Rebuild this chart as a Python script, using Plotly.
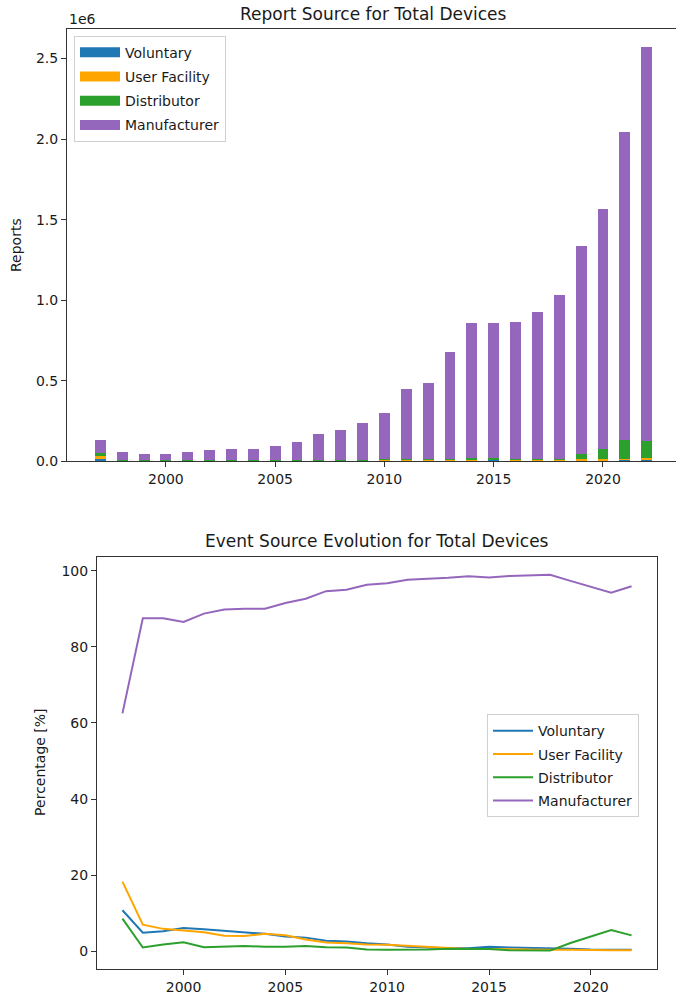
import plotly.graph_objects as go

years = list(range(1997, 2023))

# Total reports per year (stacked bar heights)
totals = [134000, 60000, 47000, 47000, 55000, 68000, 76000, 76000, 97000, 117000,
          166000, 195000, 236000, 297000, 445000, 486000, 673000, 856000, 856000,
          862000, 926000, 1030000, 1330000, 1560000, 2030000, 2550000]

# Percentage share per source
pct_voluntary = [10.8, 4.9, 5.3, 6.1, 5.8, 5.4, 5.0, 4.6, 3.9, 3.6, 2.8, 2.6, 2.1,
                 1.8, 1.2, 1.0, 0.8, 0.8, 1.2, 1.0, 0.9, 0.9, 0.7, 0.5, 0.5, 0.4]
pct_user_facility = [18.3, 7.0, 5.9, 5.5, 5.0, 4.1, 4.0, 4.6, 4.2, 3.1, 2.3, 2.1, 1.8,
                     1.7, 1.4, 1.2, 0.8, 0.6, 0.6, 0.5, 0.5, 0.4, 0.4, 0.3, 0.3, 0.3]
pct_distributor = [8.6, 1.0, 1.8, 2.4, 1.1, 1.2, 1.4, 1.2, 1.2, 1.4, 1.1, 1.0, 0.5,
                   0.4, 0.4, 0.5, 0.7, 0.7, 0.6, 0.3, 0.2, 0.2, 2.2, 3.9, 5.6, 4.2]
pct_manufacturer = [62.5, 87.5, 87.5, 86.5, 88.7, 89.8, 90.0, 90.0, 91.5, 92.6, 94.6,
                    95.0, 96.3, 96.7, 97.6, 97.8, 98.1, 98.5, 98.2, 98.6, 98.7, 98.9,
                    97.3, 95.7, 94.2, 95.9]

sources = ["Voluntary", "User Facility", "Distributor", "Manufacturer"]
colors = ["#1f77b4", "#ffa500", "#2ca02c", "#9467bd"]
pcts = [pct_voluntary, pct_user_facility, pct_distributor, pct_manufacturer]

top_yticks = [0, 0.5e6, 1.0e6, 1.5e6, 2.0e6, 2.5e6]
top_yticktext = ["0.0", "0.5", "1.0", "1.5", "2.0", "2.5"]
xticks = [2000, 2005, 2010, 2015, 2020]
bot_yticks = [0, 20, 40, 60, 80, 100]

W, H = 676, 1005
FONT = "DejaVu Sans"
TXT = "#1a1a1a"


def fx(px):
    return px / W


def fy(py):
    return (H - py) / H


fig = go.Figure()

for name, col, p in zip(sources, colors, pcts):
    counts = [t * v / 100.0 for t, v in zip(totals, p)]
    fig.add_trace(go.Bar(x=years, y=counts, name=name, width=0.5,
                         marker=dict(color=col, line=dict(width=0)),
                         xaxis="x", yaxis="y", showlegend=False))
# legend swatches shaped like matplotlib patches
for name, col in zip(sources, colors):
    fig.add_trace(go.Scatter(x=[None], y=[None], name=name, mode="lines",
                             line=dict(color=col, width=10),
                             xaxis="x", yaxis="y", legend="legend",
                             legendgroup="t" + name))

for name, col, p in zip(sources, colors, pcts):
    fig.add_trace(go.Scatter(x=years, y=p, name=name, mode="lines",
                             line=dict(color=col, width=2),
                             xaxis="x2", yaxis="y2", legend="legend2",
                             legendgroup="b" + name))

# geometry in page pixels
tl, tr_full, tt, tb = 67, 680, 29, 465
bl, br, bt, bb = 97, 657, 561, 977
x0, x1 = 1995.475, 2023.525
pxyr = (tr_full - tl) / (x1 - x0)
x1_vis = x1 - (tr_full - W) / pxyr

axis_common = dict(showline=True, linecolor="#333333", linewidth=1,
                   ticks="outside", ticklen=5, tickcolor="#333333",
                   showgrid=False, zeroline=False,
                   tickfont=dict(family=FONT, size=14, color=TXT))

fig.update_layout(
    width=W, height=H,
    margin=dict(l=0, r=0, t=0, b=0),
    paper_bgcolor="white", plot_bgcolor="white",
    barmode="stack",
    showlegend=True,
    xaxis=dict(domain=[fx(tl), 1.0], range=[x0, x1_vis], tickvals=xticks,
               mirror=True, anchor="y", **axis_common),
    yaxis=dict(domain=[fy(tb), fy(tt)], range=[0, 2.685e6],
               tickvals=top_yticks, ticktext=top_yticktext, anchor="x",
               **axis_common),
    xaxis2=dict(domain=[fx(bl), fx(br)], range=[1995.75, 2023.25], tickvals=xticks,
                mirror=True, anchor="y2", **axis_common),
    yaxis2=dict(domain=[fy(bb), fy(bt)], range=[-4.7, 103.7],
                tickvals=bot_yticks, mirror=True, anchor="x2", **axis_common),
    legend=dict(x=fx(74), y=fy(36), xanchor="left", yanchor="top",
                traceorder="grouped", tracegroupgap=3, itemwidth=40,
                bgcolor="rgba(255,255,255,0.8)",
                bordercolor="#d0d0d0", borderwidth=1,
                font=dict(family=FONT, size=14, color=TXT)),
    legend2=dict(x=fx(487), y=fy(720), xanchor="left", yanchor="top",
                 traceorder="grouped", tracegroupgap=2, itemwidth=40,
                 bgcolor="rgba(255,255,255,0.8)",
                 bordercolor="#d0d0d0", borderwidth=1,
                 font=dict(family=FONT, size=14, color=TXT)),
    annotations=[
        dict(text="Report Source for Total Devices", x=fx((tl + tr_full) / 2),
             y=fy(14), xref="paper", yref="paper", showarrow=False,
             xanchor="center", yanchor="middle",
             font=dict(family=FONT, size=17, color=TXT)),
        dict(text="Event Source Evolution for Total Devices", x=fx((bl + br) / 2),
             y=fy(545), xref="paper", yref="paper", showarrow=False,
             xanchor="center", yanchor="middle",
             font=dict(family=FONT, size=17, color=TXT)),
        dict(text="1e6", x=fx(tl), y=fy(19), xref="paper", yref="paper",
             showarrow=False, xanchor="left", yanchor="middle",
             font=dict(family=FONT, size=14, color=TXT)),
        dict(text="Reports", x=fx(16), y=fy((tt + tb) / 2), xref="paper",
             yref="paper", showarrow=False, textangle=-90, xanchor="center",
             yanchor="middle", font=dict(family=FONT, size=14, color=TXT)),
        dict(text="Percentage [%]", x=fx(40), y=fy((bt + bb) / 2),
             xref="paper", yref="paper", showarrow=False, textangle=-90,
             xanchor="center", yanchor="middle",
             font=dict(family=FONT, size=14, color=TXT)),
    ],
)

fig.write_html("out.html", config={"displayModeBar": False},
               post_script="document.body.style.margin='0';"
                           "document.body.style.overflow='hidden';")
